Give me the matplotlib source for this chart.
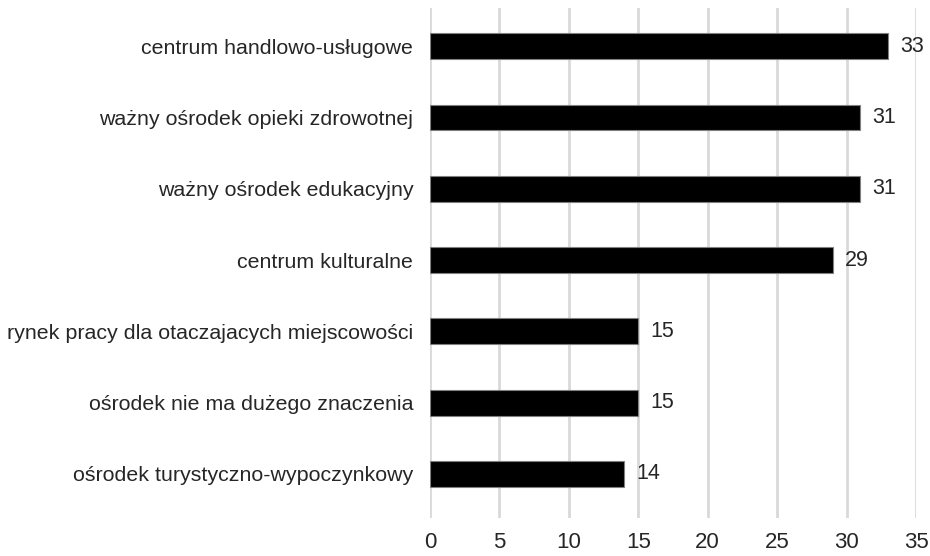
import matplotlib
matplotlib.use("Agg")
import matplotlib.pyplot as plt

categories = [
    "centrum handlowo-usługowe",
    "ważny ośrodek opieki zdrowotnej",
    "ważny ośrodek edukacyjny",
    "centrum kulturalne",
    "rynek pracy dla otaczajacych miejscowości",
    "ośrodek nie ma dużego znaczenia",
    "ośrodek turystyczno-wypoczynkowy",
]
values = [33, 31, 31, 29, 15, 15, 14]
xticks = [0, 5, 10, 15, 20, 25, 30, 35]

plt.rcParams['font.family'] = ['Liberation Sans', 'DejaVu Sans']

fig = plt.figure(figsize=(9.3, 5.56), dpi=100)
ax = fig.add_axes([430/930, 1-518/556, 486/930, 510/556])

y = list(range(len(categories)))
ax.barh(y, values, height=0.36, color='black', edgecolor='#808080', linewidth=0.8, zorder=3)
for yi, v in zip(y, values):
    ax.text(v + 0.85, yi, str(v), va='center', ha='left', fontsize=15.5, color='#262626')

ax.set_xlim(0, 35)
ax.set_ylim(6.617, -0.533)
ax.set_xticks(xticks)
ax.set_xticklabels([str(t) for t in xticks], fontsize=16, color='#262626')
ax.set_yticks(y)
ax.set_yticklabels(categories, fontsize=15.4, color='#262626')
ax.tick_params(axis='y', length=0, pad=12)
ax.tick_params(axis='x', length=0, pad=10)
ax.grid(axis='x', color='#d9d9d9', linewidth=2, zorder=0)
for s in ax.spines.values():
    s.set_visible(False)

fig.savefig("out.png", dpi=100)
